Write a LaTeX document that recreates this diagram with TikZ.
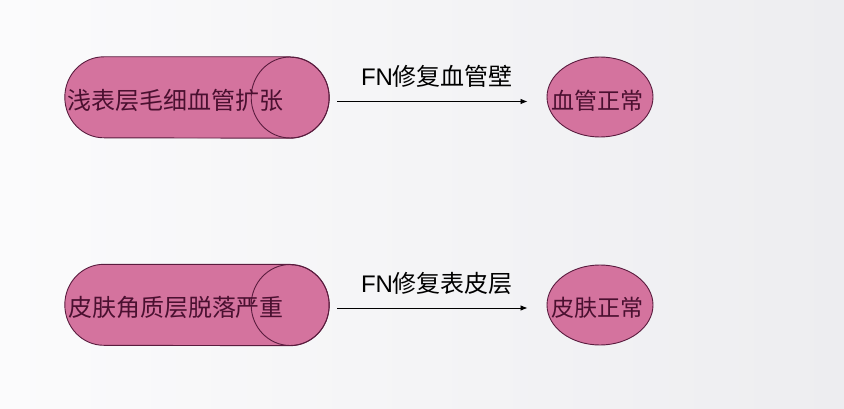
\documentclass[tikz,border=0pt]{standalone}
\usepackage{fontspec}
\setmainfont{Liberation Sans}
\newfontfamily\cjksans{Noto Sans CJK SC}
\usetikzlibrary{arrows.meta,shapes.geometric}
\definecolor{pinkfill}{HTML}{D4739E}
\definecolor{edgecol}{HTML}{5A1C3E}
\definecolor{txtcol}{HTML}{4A1030}
\definecolor{bgA}{HTML}{FBFBFC}
\definecolor{bgB}{HTML}{EDEDF0}
\newcommand\drawcyl[1]{%
  \filldraw[shapestyle] ([xshift=-39pt]#1.north east) -- ([xshift=39pt]#1.north west)
    arc[start angle=90,end angle=270,x radius=39pt,y radius=40.5pt]
    -- ([xshift=-39pt]#1.south east)
    arc[start angle=-90,end angle=90,x radius=39pt,y radius=40.5pt] -- cycle;
  \draw[edgecol, line width=0.9pt] ([xshift=-39pt]#1.east) ellipse[x radius=39pt,y radius=40.5pt];}
\tikzset{
  shapestyle/.style={fill=pinkfill, draw=edgecol, line width=0.9pt},
  cylbox/.style={rectangle, minimum width=264pt, minimum height=81pt, inner sep=0pt},
  cyltext/.style={font=\cjksans\fontsize{24pt}{28pt}\selectfont, text=txtcol, inner sep=0pt},
  okell/.style={ellipse, shapestyle, minimum width=106pt, minimum height=80pt, inner sep=0pt},
  elltext/.style={font=\cjksans\fontsize{23pt}{28pt}\selectfont, text=txtcol, inner sep=0pt},
  lbl/.style={font=\fontsize{24pt}{28pt}\selectfont, text=black, inner sep=0pt},
  arr/.style={-{Latex[length=7pt,width=5.5pt]}, line width=0.8pt, black, shorten <=8pt, shorten >=19pt}
}
\begin{document}
\begin{tikzpicture}[x=1pt,y=-1pt]
\shade[left color=bgA, right color=bgB] (0,0) rectangle (844,409);
\useasboundingbox (0,0) rectangle (844,409);
% row 1
\node[cylbox] (c1) at (197,97.5) {};
\drawcyl{c1}
\node[cyltext] (t1) at (175,100) {浅表层毛细血管扩张};
\node[okell] (e1) at (600,97) {};
\node[elltext] (et1) at (597,101) {血管正常};
\node[lbl] (l1) at (437,76) {FN{\cjksans 修复血管壁}};
\draw[arr] ([yshift=-4pt]c1.east) -- ([yshift=-4pt]c1.east -| e1.west);
% row 2
\node[cylbox] (c2) at (197,305) {};
\drawcyl{c2}
\node[cyltext] (t2) at (176,307) {皮肤角质层脱落严重};
\node[okell] (e2) at (600,305) {};
\node[elltext] (et2) at (597,308) {皮肤正常};
\node[lbl] (l2) at (437,283) {FN{\cjksans 修复表皮层}};
\draw[arr] ([yshift=-3pt]c2.east) -- ([yshift=-3pt]c2.east -| e2.west);
\end{tikzpicture}
\end{document}
